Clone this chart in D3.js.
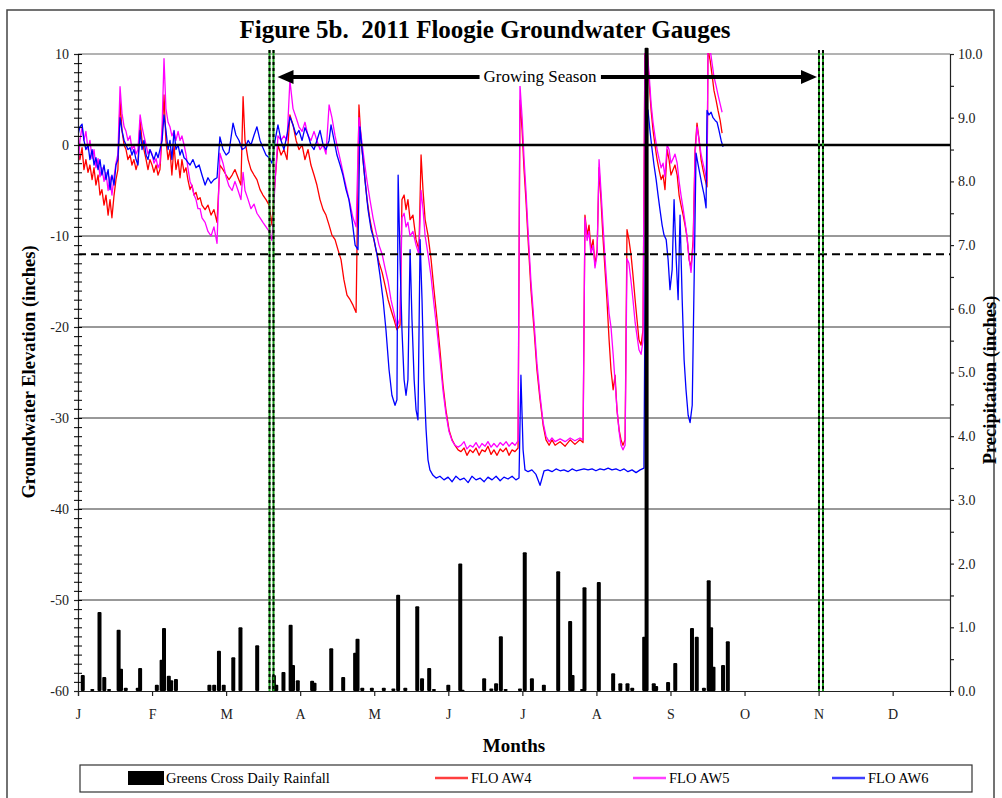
<!DOCTYPE html>
<html><head><meta charset="utf-8">
<script src="https://cdn.jsdelivr.net/npm/d3@7"></script>
<style>body{margin:0;background:#fff;} text{font-family:"Liberation Serif","Times New Roman",serif;}</style>
</head><body><svg id="c" width="1002" height="798"></svg>
<script>
const title = "Figure 5b.  2011 Floogie Groundwater Gauges";
const monthLabels = ["J","F","M","A","M","J","J","A","S","O","N","D"];
const monthTickDays = [0,31,62,93,124,155,186,217,248,279,310,341];
const leftTicks = d3.range(-60, 11, 10);
const rightTicks = d3.range(0, 10.01, 1);
const growingSeason = [81, 311];
const zeroLevel = 0, dashedLevel = -12;

const rainDays = [2,6,9,11,13,17,18,20,25,26,33,35,36,38,39,41,55,57,59,61,65,68,75,82,83,86,89,90,92,98,99,106,111,116,117,119,123,128,132,134,137,142,144,147,149,155,160,161,170,173,175,177,179,185,187,190,195,201,206,207,211,212,218,224,227,230,232,237,238,241,242,247,250,257,259,262,264,265,266,270,272];
const rainValues = [0.25,0.03,1.24,0.22,0.03,0.96,0.35,0.05,0.05,0.36,0.1,0.49,0.99,0.24,0.17,0.19,0.1,0.1,0.63,0.1,0.53,1.0,0.72,0.25,0.1,0.3,1.04,0.41,0.17,0.16,0.13,0.67,0.22,0.6,0.82,0.05,0.05,0.05,0.04,1.51,0.05,1.33,0.2,0.36,0.03,0.1,2.0,0.02,0.2,0.04,0.12,0.86,0.03,0.04,2.18,0.2,0.1,1.88,1.1,0.25,0.03,1.63,1.71,0.28,0.12,0.12,0.05,0.85,10.1,0.12,0.08,0.14,0.44,0.99,0.85,0.05,1.74,1.0,0.38,0.41,0.78];

const aw4 = [[0,-0.5],[0.8,-1.6],[1.7,-0.3],[2.5,-2.7],[3.3,-1.6],[4.2,-3.0],[5.0,-2.2],[5.9,-3.8],[6.7,-2.5],[7.5,-4.4],[8.4,-3.3],[9.2,-5.5],[10.0,-4.9],[10.9,-6.6],[11.7,-5.5],[12.6,-7.7],[13.4,-6.0],[14.2,-8.0],[15.1,-5.5],[15.9,-3.8],[16.7,-2.7],[17.6,4.9],[18.4,1.6],[19.3,0],[20.1,-0.5],[20.9,-1.6],[21.8,-1.1],[22.6,-2.2],[23.4,-1.6],[24.3,-2.7],[25.1,-1.9],[26.0,2.7],[26.8,0.5],[27.6,-0.5],[28.5,-1.6],[29.3,-2.7],[30.1,-1.6],[31.0,-2.2],[31.8,-3.0],[32.7,-2.2],[33.5,-3.3],[34.3,-2.7],[35.2,1.1],[36.0,5.5],[36.8,0.5],[37.7,-1.6],[38.5,-0.5],[39.3,-3.3],[40.2,0],[41.0,-2.7],[41.9,-1.6],[42.7,-3.6],[43.5,-1.6],[44.4,-3.0],[45.2,-2.5],[46.0,-3.8],[46.9,-4.9],[47.7,-4.4],[48.6,-5.5],[49.4,-5.2],[50.2,-6.0],[51.1,-5.8],[51.9,-6.6],[53.2,-7.1],[54.4,-6.6],[55.7,-7.7],[56.9,-7.1],[58.2,-8.5],[59.4,-2.2],[60.7,-2.7],[62.0,-3.3],[63.2,-3.8],[64.5,-3.3],[65.7,-2.7],[67.0,-3.6],[68.2,-4.4],[69.1,5.3],[69.9,0.5],[71.2,-1.6],[72.4,-2.7],[73.7,-3.3],[74.9,-3.8],[76.2,-4.9],[77.4,-5.5],[78.7,-6.0],[80.0,-6.6],[81.2,-8.8],[82.5,-3.8],[83.7,0],[85.0,-1.1],[86.2,-0.5],[87.5,-1.6],[88.7,3.3],[90.0,2.2],[91.3,0.5],[92.5,-0.5],[93.8,0],[95.0,-1.6],[96.3,-0.5],[97.5,-2.2],[98.8,-3.3],[100.0,-4.4],[101.3,-6.0],[102.6,-7.1],[103.8,-7.7],[105.1,-8.8],[106.3,-9.9],[107.6,-10.4],[108.8,-11.5],[110.1,-12.6],[111.3,-14.8],[112.6,-16.5],[113.9,-17.0],[115.1,-17.6],[116.4,-18.4],[117.6,4.4],[118.5,0.5],[119.7,-2.7],[121.0,-6.0],[122.2,-8.2],[123.5,-9.9],[124.7,-11.5],[126.0,-12.9],[127.3,-14.0],[128.5,-15.4],[129.8,-17.0],[131.0,-18.1],[132.3,-19.2],[133.5,-20.3],[134.8,-19.8],[135.6,-6.0],[136.5,-5.5],[137.3,-7.1],[138.1,-6.0],[139.0,-8.2],[140.2,-7.7],[141.5,-10.4],[142.7,-11.5],[143.6,-1.1],[144.4,-4.9],[145.3,-8.2],[146.5,-9.9],[147.8,-12.6],[149.0,-15.9],[150.3,-19.2],[151.5,-22.5],[152.8,-26.4],[154.0,-29.1],[155.3,-31.3],[156.6,-32.4],[157.8,-33.0],[159.1,-33.5],[160.3,-33.7],[161.6,-33.3],[162.8,-34.1],[164.1,-33.5],[165.3,-33.8],[166.6,-33.3],[167.9,-34.1],[169.1,-33.5],[170.4,-33.7],[171.6,-33.1],[172.9,-34.0],[174.1,-33.5],[175.4,-34.1],[176.7,-33.4],[177.9,-33.7],[179.2,-33.3],[180.4,-34.1],[181.7,-33.5],[182.9,-33.7],[184.2,-33.3],[185.0,4.9],[185.9,1.6],[186.7,-2.7],[187.5,-6.0],[188.4,-10.4],[189.6,-15.9],[190.9,-20.3],[192.1,-24.7],[193.4,-28.0],[194.7,-30.8],[195.9,-32.4],[197.2,-33.0],[198.4,-32.4],[199.7,-33.0],[201.8,-32.6],[203.9,-33.1],[206.0,-32.4],[208.0,-32.9],[210.1,-32.4],[211.4,-32.7],[212.2,-7.7],[213.1,-9.9],[213.9,-8.8],[214.7,-11.5],[215.6,-10.4],[216.4,-13.2],[217.3,-11.5],[218.1,-2.5],[218.9,-6.0],[219.8,-10.4],[220.6,-13.7],[221.4,-17.0],[222.3,-21.4],[223.1,-24.7],[224.0,-26.9],[224.8,-25.3],[225.6,-29.1],[226.5,-31.3],[227.3,-32.4],[228.1,-33.0],[229.0,-32.4],[229.8,-9.3],[230.6,-10.4],[231.5,-12.1],[232.3,-14.3],[233.2,-17.0],[234.0,-19.2],[234.8,-21.4],[235.7,-22.0],[236.5,-20.3],[237.3,10.5],[238.2,10.5],[239.0,7.1],[239.9,3.8],[240.7,1.6],[241.5,0],[242.4,-1.6],[243.2,-2.7],[244.1,-3.8],[244.9,-3.3],[245.7,-4.9],[246.6,-0.5],[247.4,-1.6],[248.2,-3.3],[249.1,-2.7],[249.9,-2.2],[250.8,-3.3],[251.6,-5.5],[252.4,-6.6],[253.3,-7.7],[254.1,-8.8],[254.9,-10.1],[255.8,-12.6],[256.6,-13.5],[257.5,-10.4],[258.3,-0.5],[259.1,2.4],[260.0,0.5],[260.8,-1.6],[261.6,-2.7],[262.5,-3.8],[263.3,-4.6],[263.7,10.5],[264.6,9.3],[265.4,7.7],[266.2,6.0],[267.1,4.9],[267.9,3.8],[268.8,2.7],[269.6,1.3]];

const aw5 = [[0,-2.4],[0.8,0.5],[1.7,2.0],[2.5,0.5],[3.3,1.5],[4.2,-0.5],[5.0,0.5],[5.9,-1.5],[6.7,-0.5],[7.5,-2.5],[8.4,-1.5],[9.2,-3.5],[10.0,-2.5],[10.9,-4.0],[11.7,-3.0],[12.6,-5.0],[13.4,-3.5],[14.2,-5.5],[15.1,-3.5],[15.9,-2.0],[16.7,-1.0],[17.6,6.4],[18.4,3.5],[19.3,2.0],[20.1,1.5],[20.9,0.5],[21.8,1.0],[22.6,-0.5],[23.4,0],[24.3,-1.0],[25.1,-0.5],[26.0,3.3],[26.8,2.0],[27.6,1.0],[28.5,0],[29.3,-1.0],[30.1,-0.5],[31.0,-1.0],[31.8,-2.0],[32.7,-1.5],[33.5,-2.5],[34.3,-2.0],[35.2,2.0],[36.0,9.5],[36.8,4.0],[37.7,2.5],[38.5,2.0],[39.3,1.0],[40.2,1.5],[41.0,0.5],[41.9,1.5],[42.7,0.5],[43.5,1.0],[44.4,0],[45.2,-1.0],[46.0,-2.5],[46.9,-4.0],[47.7,-4.5],[48.6,-5.5],[49.4,-6.0],[50.2,-7.0],[51.1,-7.0],[51.9,-8.0],[53.2,-8.5],[54.4,-9.5],[55.7,-10.0],[56.9,-9.0],[58.2,-10.8],[59.4,-0.9],[60.7,-2.0],[62.0,-3.5],[63.2,-4.5],[64.5,-5.0],[65.7,-4.0],[67.0,-5.0],[68.2,-6.0],[69.1,-3.0],[69.9,-5.0],[71.2,-6.0],[72.4,-7.0],[73.7,-6.5],[74.9,-7.5],[76.2,-8.0],[77.4,-8.5],[78.7,-9.0],[80.0,-9.5],[81.2,-10.5],[82.5,-4.0],[83.7,1.0],[85.0,0.5],[86.2,1.0],[87.5,0.5],[88.7,7.1],[90.0,4.0],[91.3,3.0],[92.5,2.0],[93.8,1.5],[95.0,2.5],[96.3,1.0],[97.5,0.5],[98.8,1.5],[100.0,0.5],[101.3,-0.5],[102.6,0],[103.8,-1.0],[105.1,4.4],[106.3,3.0],[107.6,1.0],[108.8,-0.5],[110.1,-2.0],[111.3,-3.5],[112.6,-5.0],[113.9,-6.5],[115.1,-8.0],[116.4,-9.0],[117.6,3.0],[118.5,1.0],[119.7,-1.5],[121.0,-4.0],[122.2,-6.0],[123.5,-8.0],[124.7,-9.5],[126.0,-11.0],[127.3,-12.0],[128.5,-13.5],[129.8,-15.0],[131.0,-17.0],[132.3,-18.5],[133.5,-20.0],[134.8,-19.0],[135.6,-8.0],[136.5,-7.5],[137.3,-9.0],[138.1,-8.5],[139.0,-10.0],[140.2,-9.5],[141.5,-11.0],[142.7,-12.0],[143.6,-5.0],[144.4,-7.0],[145.3,-10.0],[146.5,-12.0],[147.8,-14.5],[149.0,-17.5],[150.3,-20.5],[151.5,-23.5],[152.8,-27.0],[154.0,-29.5],[155.3,-31.5],[156.6,-32.5],[157.8,-33.0],[159.1,-33.2],[160.3,-33.0],[161.6,-32.6],[162.8,-33.4],[164.1,-33.0],[165.3,-33.2],[166.6,-32.7],[167.9,-33.3],[169.1,-32.8],[170.4,-33.1],[171.6,-32.6],[172.9,-33.2],[174.1,-32.8],[175.4,-33.2],[176.7,-32.7],[177.9,-33.0],[179.2,-32.6],[180.4,-33.1],[181.7,-32.7],[182.9,-33.0],[184.2,-32.5],[185.0,6.6],[185.9,3.0],[186.7,-1.5],[187.5,-5.0],[188.4,-9.5],[189.6,-15.0],[190.9,-19.5],[192.1,-24.0],[193.4,-27.5],[194.7,-30.5],[195.9,-32.0],[197.2,-32.6],[198.4,-32.2],[199.7,-32.6],[201.8,-32.3],[203.9,-32.6],[206.0,-32.2],[208.0,-32.5],[210.1,-32.2],[211.4,-32.4],[212.2,-8.0],[213.1,-10.5],[213.9,-9.5],[214.7,-12.0],[215.6,-11.0],[216.4,-13.5],[217.3,-12.0],[218.1,-1.6],[218.9,-5.0],[219.8,-9.0],[220.6,-12.5],[221.4,-15.5],[222.3,-18.5],[223.1,-20.0],[224.0,-23.0],[224.8,-26.0],[225.6,-29.0],[226.5,-31.5],[227.3,-33.0],[228.1,-33.5],[229.0,-33.0],[229.8,-12.5],[230.6,-13.0],[231.5,-15.0],[232.3,-17.0],[233.2,-19.5],[234.0,-21.0],[234.8,-22.5],[235.7,-23.0],[236.5,-21.5],[237.3,10.5],[238.2,10.5],[239.0,8.0],[239.9,4.5],[240.7,2.5],[241.5,1.0],[242.4,-0.5],[243.2,-1.5],[244.1,-2.5],[244.9,-2.0],[245.7,-3.5],[246.6,0],[247.4,-0.5],[248.2,-2.0],[249.1,-1.5],[249.9,-1.0],[250.8,-2.0],[251.6,-4.0],[252.4,-5.5],[253.3,-7.0],[254.1,-8.5],[254.9,-10.0],[255.8,-12.5],[256.6,-14.0],[257.5,-11.0],[258.3,-1.0],[259.1,2.0],[260.0,0.5],[260.8,-1.0],[261.6,-2.0],[262.5,-3.0],[263.3,-4.0],[263.7,10.5],[264.6,10.5],[265.4,9.0],[266.2,7.5],[267.1,6.5],[267.9,5.5],[268.8,4.5],[269.6,3.6]];

const aw6 = [[0,1.1],[0.8,2.0],[1.7,2.3],[2.5,0.5],[3.3,-0.5],[4.2,0],[5.0,-1.6],[5.9,-0.5],[6.7,-2.2],[7.5,-1.4],[8.4,-2.7],[9.2,-1.6],[10.0,-3.3],[10.9,-2.2],[11.7,-3.8],[12.6,-2.7],[13.4,-4.9],[14.2,-3.3],[15.1,-4.4],[15.9,-2.2],[16.7,-1.6],[17.6,3.0],[18.4,1.6],[19.3,0.5],[20.1,0],[20.9,-0.5],[21.8,-0.3],[22.6,-1.1],[23.4,-0.5],[24.3,-1.6],[25.1,-2.2],[26.0,1.6],[26.8,-0.5],[27.6,0.5],[28.5,-1.1],[29.3,-1.6],[30.1,-0.5],[31.0,-1.1],[31.8,-1.6],[32.7,-0.8],[33.5,-1.4],[34.3,-0.5],[35.2,0.5],[36.0,3.3],[36.8,1.6],[37.7,-0.5],[38.5,0.5],[39.3,-1.6],[40.2,1.6],[41.0,-0.5],[41.9,0],[42.7,-1.1],[43.5,-0.5],[44.4,-1.4],[45.2,-1.6],[46.0,-1.9],[46.9,-2.2],[48.1,-1.6],[49.4,-2.5],[50.7,-2.2],[51.9,-3.3],[53.2,-4.4],[54.4,-3.6],[55.7,-4.2],[56.9,-3.8],[58.2,-3.6],[59.4,0.9],[60.7,-0.5],[62.0,-1.1],[63.2,-0.8],[64.9,2.4],[66.1,1.1],[67.4,0.5],[68.7,-0.5],[69.9,-0.3],[71.2,0.5],[72.4,0],[73.7,1.1],[74.9,2.0],[76.2,0.5],[77.4,-0.3],[78.7,-1.1],[80.0,-1.4],[81.2,-2.0],[82.5,0.5],[83.7,2.2],[85.0,0.5],[86.2,-0.5],[87.5,1.1],[88.7,3.1],[90.0,2.2],[91.3,1.1],[92.5,1.6],[93.8,0.5],[95.0,1.9],[96.3,1.1],[97.5,0],[98.8,-0.5],[100.0,0.5],[101.3,1.6],[102.6,0],[103.8,-0.5],[105.1,0.5],[105.9,2.2],[107.2,0.5],[108.4,-1.1],[109.7,-2.2],[110.9,-3.3],[112.2,-4.9],[113.4,-6.0],[114.7,-8.2],[116.0,-11.0],[117.2,-11.5],[118.0,2.0],[118.9,-0.5],[120.1,-3.8],[121.4,-7.1],[122.7,-9.3],[123.9,-10.4],[125.2,-12.1],[126.4,-14.3],[127.7,-17.0],[128.9,-20.3],[130.2,-24.7],[131.4,-27.5],[132.7,-28.6],[133.5,-28.0],[134.0,-3.3],[134.8,-12.6],[135.6,-20.3],[136.5,-25.8],[137.3,-27.5],[138.1,-25.8],[139.0,-11.5],[139.8,-19.2],[140.7,-25.8],[141.5,-29.1],[142.3,-30.2],[143.2,-10.4],[144.0,-17.0],[144.8,-25.8],[145.7,-31.3],[146.5,-34.6],[147.3,-35.7],[148.6,-36.3],[149.9,-36.6],[151.5,-36.4],[153.2,-36.8],[154.9,-36.5],[156.6,-37.0],[158.2,-36.4],[159.9,-36.8],[161.6,-36.6],[163.3,-37.1],[164.9,-36.4],[166.6,-36.8],[168.3,-36.6],[170.0,-37.0],[171.6,-36.5],[173.3,-36.8],[175.0,-36.4],[176.7,-36.9],[178.3,-36.5],[180.0,-36.7],[181.7,-36.4],[183.3,-36.8],[184.6,-36.6],[185.4,-25.3],[186.3,-33.5],[187.1,-35.7],[188.4,-35.9],[190.0,-35.7],[191.7,-36.2],[193.4,-37.4],[195.1,-35.8],[196.7,-35.7],[198.4,-35.9],[200.1,-35.6],[201.8,-35.8],[203.4,-35.7],[205.1,-35.9],[206.8,-35.6],[208.5,-35.8],[210.1,-35.7],[211.8,-35.6],[213.5,-35.7],[215.2,-35.6],[216.8,-35.8],[218.5,-35.6],[220.2,-35.7],[221.9,-35.5],[223.5,-35.7],[225.2,-35.6],[226.9,-35.8],[228.6,-35.6],[230.2,-35.9],[231.9,-35.7],[233.6,-36.0],[235.3,-35.7],[236.9,-35.5],[237.8,4.2],[238.6,3.8],[239.4,1.6],[240.3,-0.5],[241.1,-2.2],[242.0,-3.8],[242.8,-5.5],[243.6,-7.1],[244.5,-8.8],[245.3,-9.9],[246.2,-10.4],[247.0,-12.6],[247.8,-15.9],[248.7,-13.7],[249.5,-6.0],[250.4,-12.6],[251.2,-17.0],[252.0,-7.7],[252.9,-17.0],[253.7,-23.6],[254.5,-26.9],[255.4,-29.7],[256.2,-30.5],[257.1,-28.6],[257.9,-14.8],[258.7,-0.9],[259.6,-2.2],[260.4,-3.3],[261.2,-4.4],[262.1,-5.5],[262.9,-6.9],[263.3,3.8],[264.1,3.3],[265.0,3.6],[265.8,3.0],[266.7,2.7],[267.5,2.5],[268.3,1.6],[269.2,0.5],[270.0,-0.2]];

const seriesNames = ["FLO AW4","FLO AW5","FLO AW6"];
const seriesColors = ["#ff0000","#ff00ff","#0000ff"];
const rainName = "Greens Cross Daily Rainfall";

const svg = d3.select("#c");
const L = 78, R = 950, T = 54, B = 691;
const x = d3.scaleLinear().domain([0, 365]).range([L, R]);
const y = d3.scaleLinear().domain([-60, 10]).range([B, T]);
const y2 = d3.scaleLinear().domain([0, 10]).range([B, T]);

svg.append("rect").attr("x",7).attr("y",10).attr("width",987).attr("height",800)
  .attr("fill","none").attr("stroke","#444").attr("stroke-width",1.5);

svg.append("text").attr("x",485).attr("y",38).attr("text-anchor","middle")
  .attr("font-size",25).attr("font-weight","bold").style("white-space","pre").text(title);

svg.append("defs").append("clipPath").attr("id","pc").append("rect")
  .attr("x",L).attr("y",T-1).attr("width",R-L).attr("height",B-T+1);

svg.append("g").selectAll("line").data(leftTicks.filter(v => v !== -60 && v !== 0))
  .join("line").attr("x1",L).attr("x2",R).attr("y1",d=>y(d)).attr("y2",d=>y(d))
  .attr("stroke",d=> d===10 ? "#666" : "#333").attr("stroke-width",1);

const line = d3.line().x(d=>x(d[0])).y(d=>y(d[1]));
const gS = svg.append("g").attr("clip-path","url(#pc)");
[aw4, aw5, aw6].forEach((s,i)=>{
  gS.append("path").datum(s).attr("d",line).attr("fill","none")
    .attr("stroke",seriesColors[i]).attr("stroke-width",1.3).attr("stroke-linejoin","round");
});

svg.append("line").attr("x1",L).attr("x2",R).attr("y1",y(zeroLevel)).attr("y2",y(zeroLevel))
  .attr("stroke","#000").attr("stroke-width",2.5);
svg.append("line").attr("x1",L).attr("x2",R).attr("y1",y(dashedLevel)).attr("y2",y(dashedLevel))
  .attr("stroke","#000").attr("stroke-width",2).attr("stroke-dasharray","8,5");

svg.append("g").selectAll("rect").data(rainDays.map((d,i)=>[d,rainValues[i]]))
  .join("rect").attr("x",d=>x(d[0])-2).attr("width",4)
  .attr("y",d=>y2(d[1])).attr("height",d=>y2(0)-y2(d[1])).attr("fill","#000")
  .attr("rx",1);

growingSeason.forEach(d=>{
  [-2,2].forEach(off=>{
    svg.append("line").attr("x1",x(d)+off).attr("x2",x(d)+off).attr("y1",T-4).attr("y2",B)
      .attr("stroke","#1a9a1a").attr("stroke-width",2);
    svg.append("line").attr("x1",x(d)+off).attr("x2",x(d)+off).attr("y1",T-4).attr("y2",B)
      .attr("stroke","#000").attr("stroke-width",2).attr("stroke-dasharray","3,3");
  });
});

const ay = 77;
const ax1 = x(growingSeason[0]) + 6, ax2 = x(growingSeason[1]) - 4;
svg.append("line").attr("x1",ax1+12).attr("x2",ax2-12).attr("y1",ay).attr("y2",ay)
  .attr("stroke","#000").attr("stroke-width",4);
svg.append("path").attr("d",`M${ax1},${ay} L${ax1+16},${ay-7} L${ax1+16},${ay+7} Z`).attr("fill","#000");
svg.append("path").attr("d",`M${ax2},${ay} L${ax2-16},${ay-7} L${ax2-16},${ay+7} Z`).attr("fill","#000");
const gsText = svg.append("text").attr("x",540).attr("y",82).attr("text-anchor","middle")
  .attr("font-size",17).text("Growing Season");
const bb = gsText.node().getBBox();
svg.insert("rect", () => gsText.node()).attr("x",bb.x-4).attr("y",bb.y).attr("width",bb.width+8).attr("height",bb.height).attr("fill","#fff");

const axL = svg.append("g").attr("transform",`translate(${L},0)`)
  .call(d3.axisLeft(y).tickValues(d3.range(-60,10.5,1)).tickSize(4)
  .tickFormat(d=> d%10===0 ? d : ""));
svg.append("g").attr("transform",`translate(${L},0)`)
  .call(d3.axisRight(y).tickValues(d3.range(-60,10.5,1)).tickSize(4).tickFormat(""))
  .call(g=>g.select(".domain").remove());
axL.selectAll("text").attr("font-size",14).attr("fill","#222").attr("x",-9)
  .style("font-family","Liberation Serif, serif");
const axR = svg.append("g").attr("transform",`translate(${R},0)`)
  .call(d3.axisRight(y2).tickValues(d3.range(0,10.01,0.5)).tickSize(4)
  .tickFormat(d=> Number.isInteger(d) ? d.toFixed(1) : ""));
axR.selectAll("text").attr("font-size",14).attr("fill","#222").attr("x",8)
  .style("font-family","Liberation Serif, serif");
const axB = svg.append("g").attr("transform",`translate(0,${B})`)
  .call(d3.axisBottom(x).tickValues(monthTickDays).tickSize(5).tickPadding(13)
  .tickFormat((d,i)=>monthLabels[i]));
axB.selectAll("text").attr("font-size",14).attr("fill","#222")
  .style("font-family","Liberation Serif, serif");
[axL, axR, axB].forEach(a=>{ a.selectAll("line,path").attr("stroke","#222").attr("stroke-width",1.2); });

svg.append("text").attr("transform",`translate(35,372) rotate(-90)`).attr("text-anchor","middle")
  .attr("font-size",18.5).attr("font-weight","bold").text("Groundwater Elevation (inches)");
svg.append("text").attr("transform",`translate(996,380) rotate(-90)`).attr("text-anchor","middle")
  .attr("font-size",18.5).attr("font-weight","bold").text("Precipitation (inches)");
svg.append("text").attr("x",514).attr("y",752).attr("text-anchor","middle")
  .attr("font-size",19).attr("font-weight","bold").text("Months");

const lg = svg.append("g");
lg.append("rect").attr("x",80).attr("y",765).attr("width",892).attr("height",27)
  .attr("fill","#fff").attr("stroke","#333").attr("stroke-width",1.2);
lg.append("rect").attr("x",128).attr("y",771).attr("width",36).attr("height",14).attr("fill","#000");
lg.append("text").attr("x",166).attr("y",783).attr("font-size",14.5).text(rainName);
const legX = [435, 633, 832];
seriesNames.forEach((n,i)=>{
  lg.append("line").attr("x1",legX[i]).attr("x2",legX[i]+33).attr("y1",778).attr("y2",778)
    .attr("stroke",seriesColors[i]).attr("stroke-width",2.5).attr("opacity",0.75);
  lg.append("text").attr("x",legX[i]+36).attr("y",783).attr("font-size",14.5).text(n);
});
</script></body></html>
